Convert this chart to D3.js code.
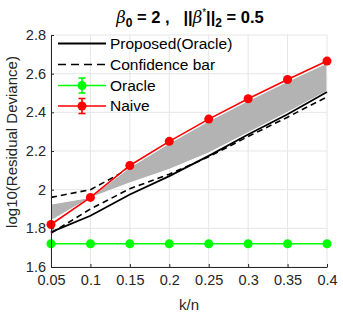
<!DOCTYPE html>
<html>
<head>
<meta charset="utf-8">
<script src="https://cdn.jsdelivr.net/npm/d3@7"></script>
<style>
  body { margin: 0; background: #fff; }
  svg { font-family: Arial, "Liberation Sans", Helvetica, sans-serif; }
</style>
</head>
<body>
<svg id="chart" width="343" height="316"></svg>
<script>
// k/n values
const kn = [0.05, 0.1, 0.15, 0.2, 0.25, 0.3, 0.35, 0.4];
// series (log10 residual deviance)
const proposed = [1.78, 1.865, 1.975, 2.07, 2.175, 2.285, 2.39, 2.505];
const ciUpper = [1.96, 2.0, 2.11, 2.2, 2.3, 2.4, 2.5, 2.58];
const ciLower = [1.775, 1.9, 2.005, 2.08, 2.17, 2.275, 2.375, 2.48];
const oracle = [1.72, 1.72, 1.72, 1.72, 1.72, 1.72, 1.72, 1.72];
const naive = [1.82, 1.96, 2.125, 2.25, 2.365, 2.47, 2.57, 2.665];
// gray band
const bandTop = [1.925, 1.96, 2.115, 2.24, 2.355, 2.46, 2.56, 2.655];
const bandBottom = [1.84, 1.958, 2.035, 2.105, 2.19, 2.295, 2.4, 2.51];

const xTicks = [0.05, 0.1, 0.15, 0.2, 0.25, 0.3, 0.35, 0.4];
const xTickLabels = ["0.05", "0.1", "0.15", "0.2", "0.25", "0.3", "0.35", "0.4"];
const yTicks = [1.6, 1.8, 2.0, 2.2, 2.4, 2.6, 2.8];
const yTickLabels = ["1.6", "1.8", "2", "2.2", "2.4", "2.6", "2.8"];

const legendNames = ["Proposed(Oracle)", "Confidence bar", "Oracle", "Naive"];

const svg = d3.select('#chart');
const margin = {left: 51, right: 16, top: 35, bottom: 49};
const width = 343, height = 316;

const xScale = d3.scaleLinear().domain([0.05, 0.4]).range([margin.left, width - margin.right]);
const yScale = d3.scaleLinear().domain([1.6, 2.8]).range([height - margin.bottom, margin.top]);

const tickCol = '#262626';

// grid
const grid = svg.append('g').attr('class', 'grid');
grid.selectAll('.vgrid').data(xTicks).enter().append('line')
  .attr('x1', d => xScale(d)).attr('x2', d => xScale(d))
  .attr('y1', yScale(1.6)).attr('y2', yScale(2.8))
  .attr('stroke', '#e6e6e6').attr('stroke-width', 1);
grid.selectAll('.hgrid').data(yTicks).enter().append('line')
  .attr('x1', xScale(0.05)).attr('x2', xScale(0.4))
  .attr('y1', d => yScale(d)).attr('y2', d => yScale(d))
  .attr('stroke', '#e6e6e6').attr('stroke-width', 1);

const line = d3.line().x((d, i) => xScale(kn[i])).y(d => yScale(d));

// confidence bars (drawn first, gray band sits on top)
svg.append('path').datum(ciUpper).attr('d', line)
  .attr('fill', 'none').attr('stroke', '#000').attr('stroke-width', 1.6)
  .attr('stroke-dasharray', '6,4');
svg.append('path').datum(ciLower).attr('d', line)
  .attr('fill', 'none').attr('stroke', '#000').attr('stroke-width', 1.6)
  .attr('stroke-dasharray', '6,4');

// gray band
const area = d3.area()
  .x((d, i) => xScale(kn[i]))
  .y0((d, i) => yScale(bandBottom[i]))
  .y1((d, i) => yScale(bandTop[i]));
svg.append('path').datum(kn).attr('d', area)
  .attr('fill', '#b3b3b3').attr('stroke', '#fff').attr('stroke-width', 1);

// proposed
svg.append('path').datum(proposed).attr('d', line)
  .attr('fill', 'none').attr('stroke', '#000').attr('stroke-width', 1.8);

// oracle
svg.append('path').datum(oracle).attr('d', line)
  .attr('fill', 'none').attr('stroke', '#00ff00').attr('stroke-width', 1.6);
svg.selectAll('.oracle-pt').data(oracle).enter().append('circle')
  .attr('cx', (d, i) => xScale(kn[i])).attr('cy', d => yScale(d))
  .attr('r', 4.5).attr('fill', '#00ff00');

// naive
svg.append('path').datum(naive).attr('d', line)
  .attr('fill', 'none').attr('stroke', '#ff0000').attr('stroke-width', 1.6);
svg.selectAll('.naive-pt').data(naive).enter().append('circle')
  .attr('cx', (d, i) => xScale(kn[i])).attr('cy', d => yScale(d))
  .attr('r', 4.5).attr('fill', '#ff0000');

// axes
const xAxis = d3.axisBottom(xScale).tickValues(xTicks)
  .tickFormat((d, i) => xTickLabels[i]).tickSizeInner(-3).tickSizeOuter(0).tickPadding(6);
const yAxis = d3.axisLeft(yScale).tickValues(yTicks)
  .tickFormat((d, i) => yTickLabels[i]).tickSizeInner(-3).tickSizeOuter(0).tickPadding(5);

const xAxisG = svg.append('g').attr('transform', `translate(0,${yScale(1.6)})`).call(xAxis);
const yAxisG = svg.append('g').attr('transform', `translate(${xScale(0.05)},0)`).call(yAxis);
[xAxisG, yAxisG].forEach(g => {
  g.select('.domain').attr('stroke', tickCol).attr('stroke-width', 1);
  g.selectAll('.tick line').attr('stroke', tickCol);
  g.selectAll('.tick text').attr('fill', tickCol).attr('font-size', 14.5)
    .attr('font-family', 'Arial, "Liberation Sans", sans-serif');
});
xAxisG.selectAll('.tick text').attr('dy', '0.8em');

// axis titles
svg.append('text')
  .attr('x', (xScale(0.05) + xScale(0.4)) / 2).attr('y', 310)
  .attr('text-anchor', 'middle').attr('font-size', 15).attr('fill', tickCol)
  .text('k/n');
svg.append('text')
  .attr('transform', `translate(17,142) rotate(-90)`)
  .attr('text-anchor', 'middle').attr('font-size', 15).attr('fill', tickCol)
  .text('log10(Residual Deviance)');

// title
const title = svg.append('text')
  .attr('x', 190).attr('y', 23)
  .attr('text-anchor', 'middle').attr('font-size', 16.5).attr('font-weight', 'bold')
  .attr('fill', '#000').style('white-space', 'pre');
title.append('tspan').attr('font-family', '"DejaVu Serif", serif').attr('font-style', 'italic')
  .attr('font-weight', 'normal').text('\u03B2');
title.append('tspan').attr('font-size', 12).attr('dy', 4).text('0');
title.append('tspan').attr('dy', -4).text(' = 2 ,   ||');
title.append('tspan').attr('font-family', '"DejaVu Serif", serif').attr('font-style', 'italic')
  .attr('font-weight', 'normal').text('\u03B2');
title.append('tspan').attr('font-size', 10).attr('dy', -7).attr('font-weight', 'normal').text('*');
title.append('tspan').attr('dy', 7).text('||');
title.append('tspan').attr('font-size', 12).attr('dy', 4).text('2');
title.append('tspan').attr('dy', -4).text(' = 0.5');

// legend
const legend = svg.append('g').attr('class', 'legend');
const rowY = [43.5, 64.5, 85.5, 106];
const lx0 = 58, lx1 = 106;

legend.append('line').attr('x1', lx0).attr('x2', lx1).attr('y1', rowY[0]).attr('y2', rowY[0])
  .attr('stroke', '#000').attr('stroke-width', 1.8);
legend.append('line').attr('x1', lx0).attr('x2', lx1).attr('y1', rowY[1]).attr('y2', rowY[1])
  .attr('stroke', '#000').attr('stroke-width', 1.6).attr('stroke-dasharray', '8,5');

const legendMarks = [{c: '#00ff00', y: rowY[2]}, {c: '#ff0000', y: rowY[3]}];
legendMarks.forEach(m => {
  legend.append('line').attr('x1', lx0).attr('x2', lx1).attr('y1', m.y).attr('y2', m.y)
    .attr('stroke', m.c).attr('stroke-width', 1.6);
  const cx = (lx0 + lx1) / 2;
  legend.append('line').attr('x1', cx).attr('x2', cx).attr('y1', m.y - 7.5).attr('y2', m.y + 7.5)
    .attr('stroke', m.c).attr('stroke-width', 1.6);
  legend.append('line').attr('x1', cx - 3.5).attr('x2', cx + 3.5).attr('y1', m.y - 7.5).attr('y2', m.y - 7.5)
    .attr('stroke', m.c).attr('stroke-width', 1.6);
  legend.append('line').attr('x1', cx - 3.5).attr('x2', cx + 3.5).attr('y1', m.y + 7.5).attr('y2', m.y + 7.5)
    .attr('stroke', m.c).attr('stroke-width', 1.6);
  legend.append('circle').attr('cx', cx).attr('cy', m.y).attr('r', 4.5).attr('fill', m.c);
});

legend.selectAll('.ltext').data(legendNames).enter().append('text')
  .attr('x', 110).attr('y', (d, i) => rowY[i]).attr('dy', '0.35em')
  .attr('font-size', 15.5).attr('fill', '#000')
  .text(d => d);
</script>
</body>
</html>
